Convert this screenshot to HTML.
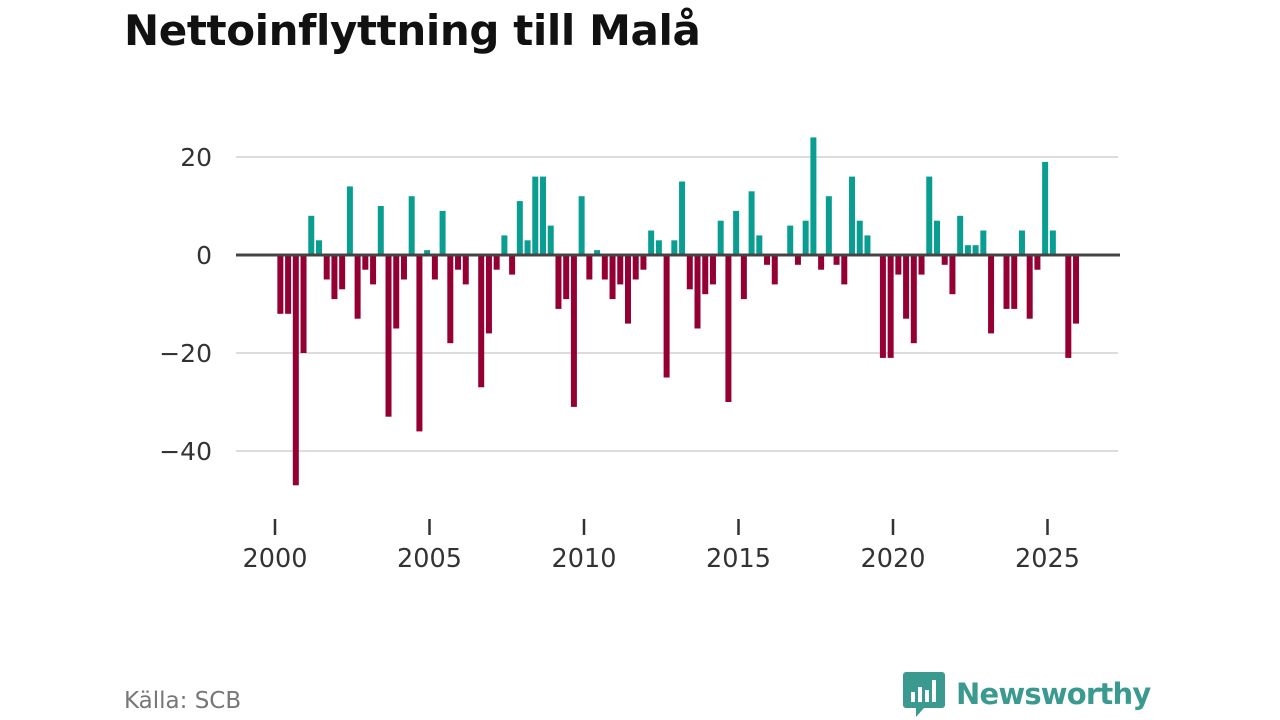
<!DOCTYPE html>
<html><head><meta charset="utf-8">
<style>
body{margin:0;width:1280px;height:720px;background:#fff;overflow:hidden;font-family:"DejaVu Sans",sans-serif}
#title{position:absolute;left:124px;top:6px;font-size:42px;font-weight:bold;color:#111;margin:0;letter-spacing:-0.4px}
#source{position:absolute;left:124px;top:688px;font-size:23px;color:#777}
#logo{position:absolute;left:902px;top:670px;display:flex;align-items:center}
#logo span{font-size:29px;color:#3a9a8f;font-weight:bold;margin-left:10px;letter-spacing:-0.8px}
</style></head><body>
<h1 id="title">Nettoinflyttning till Malå</h1>
<svg id="chart" width="1280" height="720" style="position:absolute;left:0;top:0"></svg>
<div id="source">Källa: SCB</div>
<div id="logo">
<svg width="44" height="48" viewBox="0 0 44 48"><path d="M4 2h36a3 3 0 0 1 3 3v30a3 3 0 0 1-3 3H22l-8 9v-9H4a3 3 0 0 1-3-3V5a3 3 0 0 1 3-3z" fill="#3a9a8f"/><rect x="9" y="22" width="4" height="10" fill="#fff"/><rect x="16" y="17" width="4" height="15" fill="#fff"/><rect x="23" y="20" width="4" height="12" fill="#fff"/><rect x="30" y="10" width="4" height="22" fill="#fff"/></svg>
<span>Newsworthy</span></div>
<script>
const years=[2000,2001,2002,2003,2004,2005,2006,2007,2008,2009,2010,2011,2012,2013,2014,2015,2016,2017,2018,2019,2020,2021,2022,2023,2024,2025];
const values=[-12,-12,-47,-20, 8,3,-5,-9, -7,14,-13,-3, -6,10,-33,-15, -5,12,-36,1, -5,9,-18,-3, -6,0,-27,-16,
-3,4,-4,11, 3,16,16,6, -11,-9,-31,12, -5,1,-5,-9, -6,-14,-5,-3, 5,3,-25,3, 15,-7,-15,-8,
-6,7,-30,9, -9,13,4,-2, -6,0,6,-2, 7,24,-3,12, -2,-6,16,7, 4,0,-21,-21, -4,-13,-18,-4,
16,7,-2,-8, 8,2,2,5, -16,0,-11,-11, 5,-13,-3,19, 5,0,-21,-14];
const yTicks=[20,0,-20,-40];
const yTickLabels=["20","0","\u221220","\u221240"];
const xTicks=[2000,2005,2010,2015,2020,2025];
const svg=document.getElementById('chart');const NS='http://www.w3.org/2000/svg';
const x=t=>275+(t-2000)*30.9;
const y=v=>255-v*4.9;
function mk(tag,attrs){const e=document.createElementNS(NS,tag);for(const k in attrs)e.setAttribute(k,attrs[k]);svg.appendChild(e);return e;}
yTicks.forEach((v,i)=>{
 if(v!==0){const g=mk('line',{x1:236,x2:1118,y1:y(v),y2:y(v),stroke:'#dcdcdc','stroke-width':2});
 
 }
 const t=mk('text',{x:212,y:y(v)+9,'text-anchor':'end','font-size':25,fill:'#333','font-family':'DejaVu Sans, sans-serif'});
 t.textContent=yTickLabels[i];
 
 
});
values.forEach((v,i)=>{
 const t=years[0]+(i+0.5)/4;
 const r=mk('rect',{x:x(t)-1.5,width:6,y:Math.min(y(v),y(0)),height:Math.abs(y(v)-y(0)),fill:v>=0?'#0a9e92':'#940033'});
 
 
});
const z=mk('line',{x1:236,x2:1120,y1:y(0),y2:y(0),stroke:'#444','stroke-width':3});


xTicks.forEach(yr=>{
 const l=mk('line',{x1:x(yr),x2:x(yr),y1:519,y2:535,stroke:'#333','stroke-width':2.5});
 
 
 const t=mk('text',{x:x(yr),y:567,'text-anchor':'middle','font-size':25.5,fill:'#333','font-family':'DejaVu Sans, sans-serif'});
 t.textContent=yr;
 
 
});
</script>
</body></html>
